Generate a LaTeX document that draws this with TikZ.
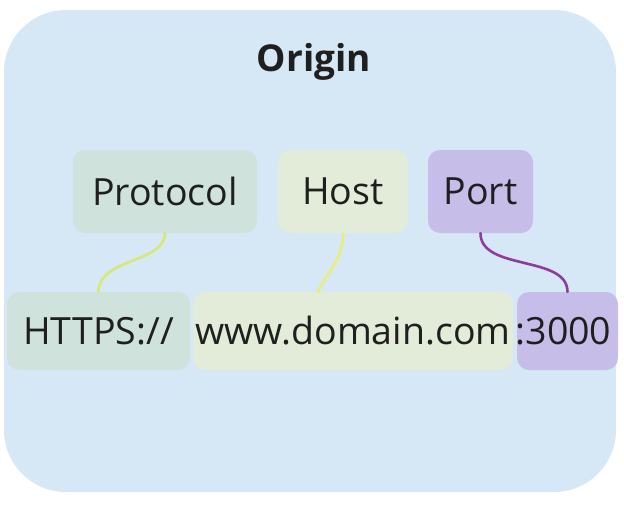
\documentclass[tikz,border=0pt]{standalone}
\usepackage{fontspec}
\setmainfont{Open Sans}
\usepackage{tikz}

\definecolor{originbg}{HTML}{D6E7F6}
\definecolor{protobg}{HTML}{CFE3DC}
\definecolor{hostbg}{HTML}{E2ECD8}
\definecolor{portbg}{HTML}{C7BDE9}
\definecolor{protoline}{HTML}{D7E874}
\definecolor{hostline}{HTML}{ECEC78}
\definecolor{portline}{HTML}{8E3C9E}

\begin{document}
\begin{tikzpicture}[x=1pt, y=-1pt, line cap=round,
  part/.style={rounded corners=12pt, inner sep=0pt, minimum height=83pt,
    font=\fontsize{37.5}{42}\selectfont, text=black!88},
  piece/.style={part, minimum height=78pt}]
  \useasboundingbox (0,0) rectangle (624,506);
  % outer origin box
  \fill[originbg, rounded corners=62pt] (4,10) rectangle (616,492);
  \node[font=\bfseries\fontsize{37}{42}\selectfont, text=black!88] (title) at (314,62) {Origin};
  % labels (top row)
  \node[part, fill=protobg, minimum width=184pt] (proto) at (165,191.5) {Protocol};
  \node[part, fill=hostbg,  minimum width=130pt] (host)  at (343,191.5) {Host};
  \node[part, fill=portbg,  minimum width=105pt] (port)  at (480.5,191.5) {Port};
  % url pieces (bottom row)
  \node[piece, fill=protobg, minimum width=183pt] (scheme) at (98.5,331) {HTTPS://};
  \node[piece, fill=hostbg,  minimum width=320pt] (domain) at (353,331) {www.domain.com};
  \node[piece, fill=portbg,  minimum width=101pt] (num)    at (567.5,331) {\hspace*{-8pt}:3000};
  \coordinate (hostend) at (318,292);
  % connectors
  \draw[protoline, line width=2.6pt] (proto.south) .. controls +(0,30) and +(0,-34) .. (scheme.north);
  \draw[hostline,  line width=2.6pt] (host.south) .. controls +(0,28) and +(7,-17) .. (hostend);
  \draw[portline,  line width=2.6pt] (port.south) .. controls +(0,38) and +(0,-37) .. (num.north);
\end{tikzpicture}
\end{document}
